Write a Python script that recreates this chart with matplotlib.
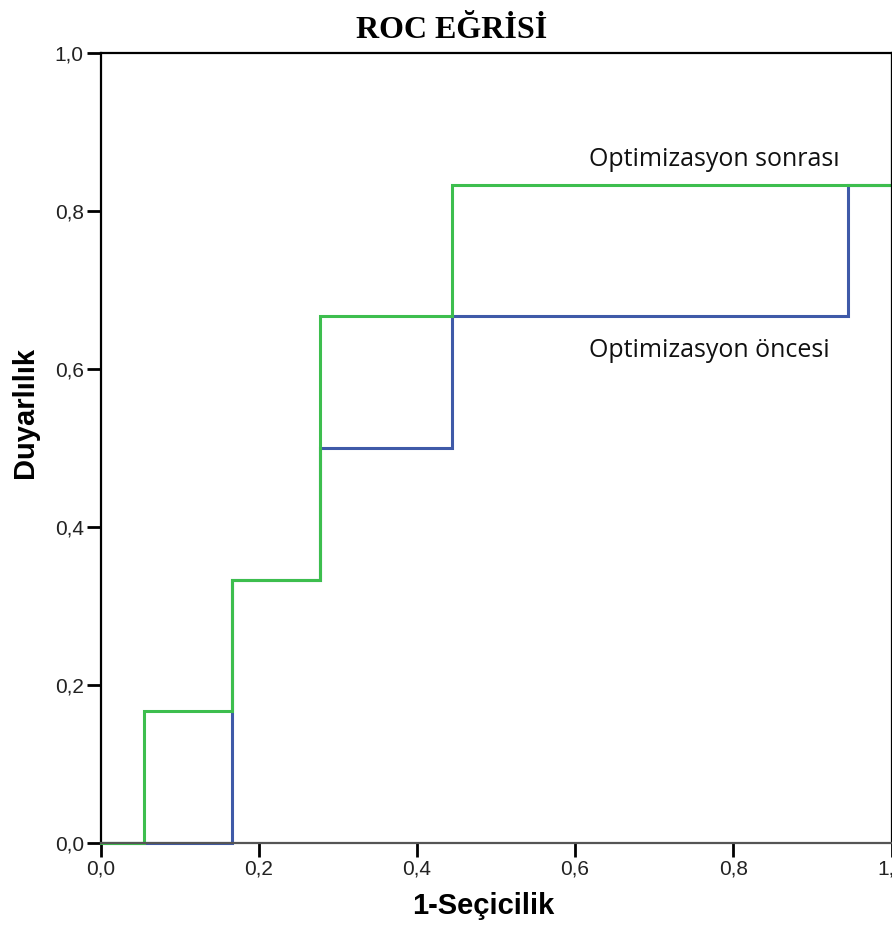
import matplotlib
matplotlib.use("Agg")
import matplotlib.pyplot as plt

# Data (1-specificity, sensitivity) step points
x_before = [0.0, 1/6, 1/6, 5/18, 5/18, 8/18, 8/18, 17/18, 17/18, 1.0, 1.0]
y_before = [0.0, 0.0, 1/3, 1/3, 0.5, 0.5, 2/3, 2/3, 5/6, 5/6, 1.0]
x_after = [0.0, 1/18, 1/18, 1/6, 1/6, 5/18, 5/18, 8/18, 8/18, 1.0, 1.0]
y_after = [0.0, 0.0, 1/6, 1/6, 1/3, 1/3, 2/3, 2/3, 5/6, 5/6, 1.0]
ticks = [0.0, 0.2, 0.4, 0.6, 0.8, 1.0]
tick_labels = ["0,0", "0,2", "0,4", "0,6", "0,8", "1,0"]

W, H = 892, 925
fig = plt.figure(figsize=(W/100, H/100), dpi=100)
ax = fig.add_axes([100.5/W, 1-843/H, 791/W, 790/H])

blue = "#3F5AA8"
green = "#3DBE4E"
ax.plot(x_before, y_before, color=blue, lw=2.2, solid_joinstyle="miter", clip_on=False)
ax.plot(x_after, y_after, color=green, lw=2.2, solid_joinstyle="miter", clip_on=False)

ax.set_xlim(0, 1)
ax.set_ylim(0, 1)
ax.set_xticks(ticks)
ax.set_xticklabels(tick_labels, fontfamily="Liberation Sans", fontsize=15, color="#222222")
ax.set_yticks(ticks)
ax.set_yticklabels(tick_labels, fontfamily="Liberation Sans", fontsize=15, color="#222222")
ax.tick_params(direction="out", length=10, width=2, color="black", pad=2)
for s in ax.spines.values():
    s.set_linewidth(1.6)
    s.set_color("black")
ax.spines["bottom"].set_color("#555555")

ax.text(0.617, 0.857, "Optimizasyon sonrası", fontfamily="Open Sans", fontsize=18,
        ha="left", va="baseline", color="#111111")
ax.text(0.617, 0.615, "Optimizasyon öncesi", fontfamily="Open Sans", fontsize=18,
        ha="left", va="baseline", color="#111111")

fig.text(452/W, 1-38/H, "ROC EĞRİSİ", fontfamily="Liberation Serif", fontweight="bold",
         fontsize=23, ha="center", va="baseline")
fig.text(483/W, 1-914/H, "1-Seçicilik", fontfamily="Liberation Sans", fontweight="bold",
         fontsize=21, ha="center", va="baseline")
fig.text(25/W, 1-413/H, "Duyarlılık", fontfamily="Liberation Sans", fontweight="bold",
         fontsize=21, ha="center", va="center", rotation=90)

fig.savefig("out.png", dpi=100)
